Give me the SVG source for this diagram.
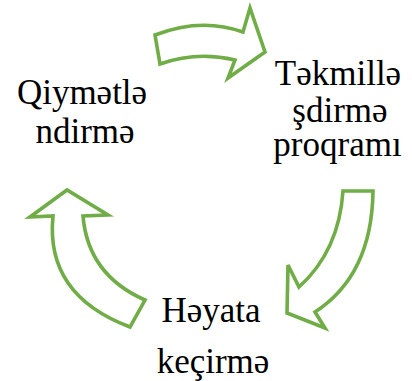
<svg xmlns="http://www.w3.org/2000/svg" width="412" height="381" viewBox="0 0 412 381">
<style>
svg text{font-family:"Liberation Serif",serif !important;font-size:35px !important;fill:#000000;text-anchor:middle}
.arrow{fill:#ffffff;stroke:#70AD47;stroke-width:3.6px;stroke-linejoin:miter}
</style>
<rect width="412" height="381" fill="#ffffff"/>
<g id="connectors">
<path id="arrow-top" class="arrow" d="M155,35 Q201,17 243,32 L250,8 L265,52 L228,78 L235,60 Q197,51 160,64 Z"/>
<path id="arrow-right" class="arrow" d="M343,191 L373,191 Q372,275 315,312 L325,328 L287,313 L288,265 L299,287 Q339,251 343,191 Z"/>
<path id="arrow-left" class="arrow" d="M130,327 Q45,295 53,216 L30,217 L67,190 L108,215 L83,216 Q88,275 145,300 Z"/>
</g>
<g id="node-qiymetlendirme">
<text x="82" y="104" font-family="Liberation Serif" font-size="35" text-anchor="middle" style="font-family:'Liberation Serif',serif !important">Qiymətlə</text>
<text x="85" y="143" font-family="Liberation Serif" font-size="35" text-anchor="middle" style="font-family:'Liberation Serif',serif !important">ndirmə</text>
</g>
<g id="node-tekmillesdirme">
<text x="338" y="85" font-family="Liberation Serif" font-size="35" text-anchor="middle" style="font-family:'Liberation Serif',serif !important">Təkmillə</text>
<text x="340" y="121.5" font-family="Liberation Serif" font-size="35" text-anchor="middle" style="font-family:'Liberation Serif',serif !important">şdirmə</text>
<text x="337.5" y="156" font-family="Liberation Serif" font-size="35" text-anchor="middle" style="font-family:'Liberation Serif',serif !important">proqramı</text>
</g>
<g id="node-heyata">
<text x="211" y="321.5" font-family="Liberation Serif" font-size="35" text-anchor="middle" style="font-family:'Liberation Serif',serif !important">Həyata</text>
<text x="213" y="373" font-family="Liberation Serif" font-size="35" text-anchor="middle" style="font-family:'Liberation Serif',serif !important">keçirmə</text>
</g>
</svg>
